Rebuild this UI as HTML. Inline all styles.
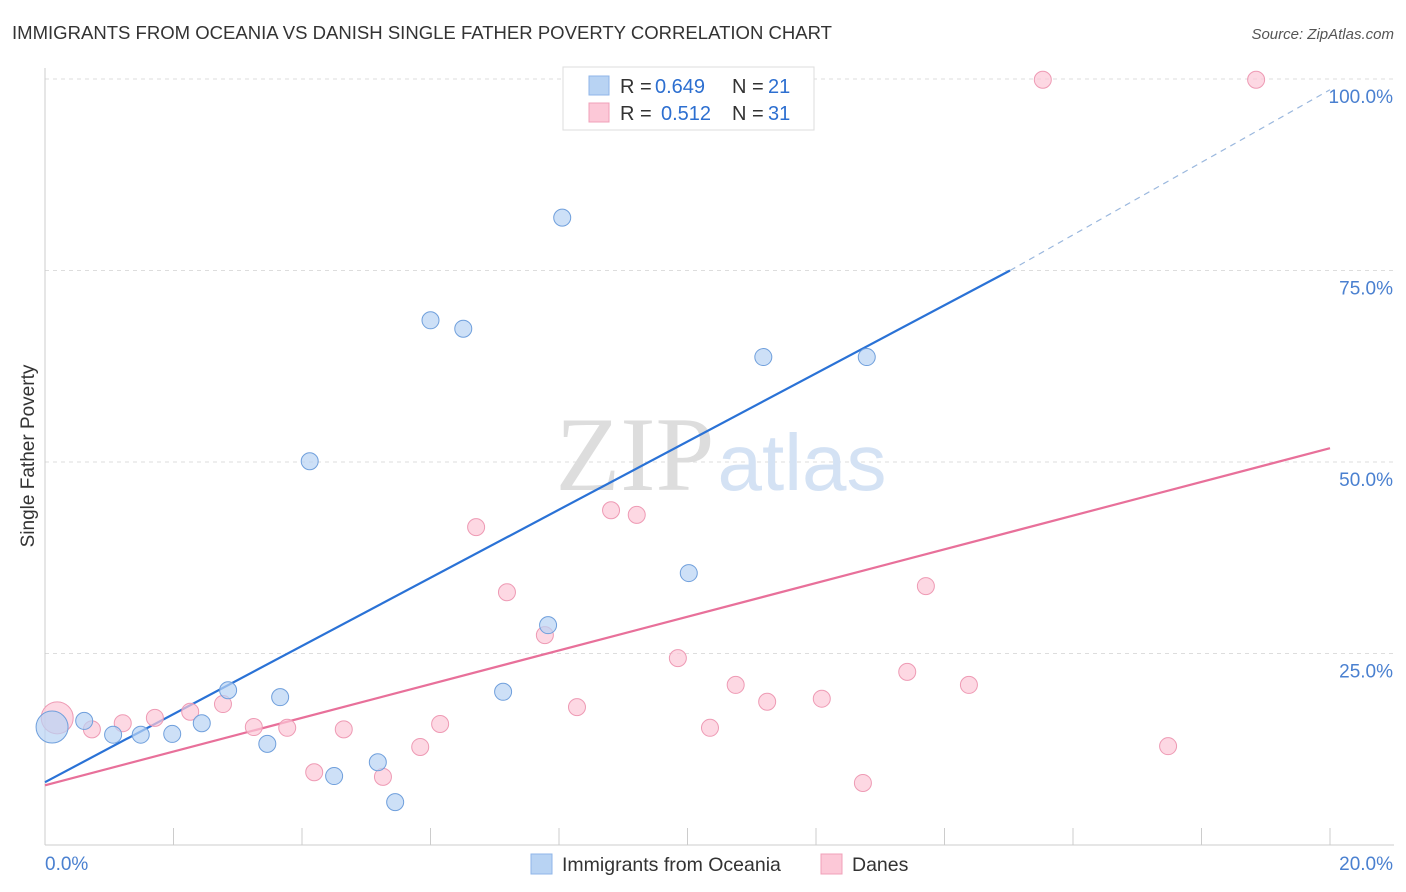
<!DOCTYPE html>
<html><head><meta charset="utf-8"><style>
body{margin:0;background:#fff;font-family:"Liberation Sans",sans-serif;}
svg{display:block}
</style></head><body>
<svg id="chart" width="1406" height="892" xmlns="http://www.w3.org/2000/svg" font-family="Liberation Sans, sans-serif">
<text x="12" y="39" font-size="18" fill="#333" textLength="820" lengthAdjust="spacingAndGlyphs">IMMIGRANTS FROM OCEANIA VS DANISH SINGLE FATHER POVERTY CORRELATION CHART</text>
<text x="1394" y="39" font-size="15" fill="#555" font-style="italic" text-anchor="end">Source: ZipAtlas.com</text>
<text transform="translate(34,456) rotate(-90)" font-size="19" fill="#333" text-anchor="middle">Single Father Poverty</text>
<g id="grid"></g>
<g>
<text x="635" y="490" font-size="106" font-family="Liberation Serif, serif" fill="#ddd" text-anchor="middle">ZIP</text>
<text x="802" y="490" font-size="80" fill="#d4e2f4" text-anchor="middle">atlas</text>
</g>
<g id="lines"></g>
<g id="points"></g>
<g>
<rect x="563" y="67" width="251" height="63" fill="#fff" stroke="#ddd"/>
<rect x="589" y="76" width="20" height="19" fill="#b8d3f3" stroke="#8fb6e8"/>
<rect x="589" y="103" width="20" height="19" fill="#fcc8d7" stroke="#f0a0b8"/>
<text x="620" y="93" font-size="20" fill="#333">R =</text>
<text x="655" y="93" font-size="20" fill="#2d6fd0">0.649</text>
<text x="732" y="93" font-size="20" fill="#333">N =</text>
<text x="768" y="93" font-size="20" fill="#2d6fd0">21</text>
<text x="620" y="120" font-size="20" fill="#333">R =</text>
<text x="661" y="120" font-size="20" fill="#2d6fd0">0.512</text>
<text x="732" y="120" font-size="20" fill="#333">N =</text>
<text x="768" y="120" font-size="20" fill="#2d6fd0">31</text>
</g>
<g>
<rect x="531" y="854" width="21" height="20" fill="#b8d3f3" stroke="#8fb6e8"/>
<text x="562" y="871" font-size="19.5" fill="#333">Immigrants from Oceania</text>
<rect x="821" y="854" width="21" height="20" fill="#fcc8d7" stroke="#f0a0b8"/>
<text x="852" y="871" font-size="19.5" fill="#333">Danes</text>
</g>
<text x="45" y="870" font-size="19" fill="#4a80d0">0.0%</text>
<text x="1393" y="870" font-size="19" fill="#4a80d0" text-anchor="end">20.0%</text>
</svg>
<script>
const yTicks=[100,75,50,25];
const yTickLabels=["100.0%","75.0%","50.0%","25.0%"];
const xTicks=[0,2,4,6,8,10,12,14,16,18,20];
const blueX=[0.11,0.61,1.06,1.49,1.98,2.44,2.85,3.46,3.66,4.12,4.50,5.18,5.45,6.00,6.51,7.13,7.83,8.05,10.02,11.18,12.79];
const blueY=[15.4,16.2,14.4,14.4,14.5,15.9,20.2,13.2,19.3,50.1,9.0,10.8,5.6,68.5,67.4,20.0,28.7,81.9,35.5,63.7,63.7];
const pinkX=[0.19,0.73,1.21,1.71,2.26,2.77,3.25,3.77,4.19,4.65,5.26,5.84,6.15,6.71,7.19,7.78,8.28,8.81,9.21,9.85,10.35,10.75,11.24,12.09,12.73,13.42,13.71,14.38,15.53,17.48,18.85];
const pinkY=[16.6,15.1,15.9,16.6,17.4,18.4,15.4,15.3,9.5,15.1,8.9,12.8,15.8,41.5,33.0,27.4,18.0,43.7,43.1,24.4,15.3,20.9,18.7,19.1,8.1,22.6,33.8,20.9,99.9,12.9,99.9];
const blueTrend=[8.2,75,98.6];
const pinkTrend=[7.8,51.8];
const NS="http://www.w3.org/2000/svg";
const X=v=>45+v*1285/20, Y=v=>845-v*7.66;
function mk(t,a,p){const e=document.createElementNS(NS,t);for(const k in a)e.setAttribute(k,a[k]);p.appendChild(e);return e;}
const g=document.getElementById('grid');
yTicks.forEach((t,i)=>{
 const l=mk('line',{x1:45,x2:1394,y1:Y(t),y2:Y(t),stroke:'#ddd','stroke-dasharray':'4,4'},g);
 
 
 const tx=mk('text',{x:1393,y:Y(t)+24,'font-size':19,fill:'#4a80d0','text-anchor':'end'},g);
 tx.textContent=yTickLabels[i];
 
 
});
const ax=mk('line',{x1:45,x2:45,y1:68,y2:845,stroke:'#ccc'},g);


const bx=mk('line',{x1:45,x2:1394,y1:845,y2:845,stroke:'#ccc'},g);


xTicks.forEach(t=>{
 const l=mk('line',{x1:X(t),x2:X(t),y1:828,y2:845,stroke:'#ccc'},g);
 
 
});
const L=document.getElementById('lines');
let e=mk('line',{x1:X(0),y1:Y(blueTrend[0]),x2:X(15.02),y2:Y(blueTrend[1]),stroke:'#2a72d6','stroke-width':2.2},L);


e=mk('line',{x1:X(15.02),y1:Y(blueTrend[1]),x2:X(20),y2:Y(blueTrend[2]),stroke:'#9bb8de','stroke-width':1.2,'stroke-dasharray':'6,5'},L);


e=mk('line',{x1:X(0),y1:Y(pinkTrend[0]),x2:X(20),y2:Y(pinkTrend[1]),stroke:'#e8709a','stroke-width':2.2},L);


const P=document.getElementById('points');
function pts(xs,ys,fill,stroke,name){
 xs.forEach((x,i)=>{
  const c=mk('circle',{cx:X(x),cy:Y(ys[i]),r:i===0?16:8.5,fill:fill,'fill-opacity':0.7,stroke:stroke,'stroke-width':1},P);
  
  
 });
}
pts(pinkX,pinkY,'#fcc8d7','#ee9ab4','danes-point');
pts(blueX,blueY,'#b8d3f3','#6f9fdc','oceania-point');
</script>
</body></html>
